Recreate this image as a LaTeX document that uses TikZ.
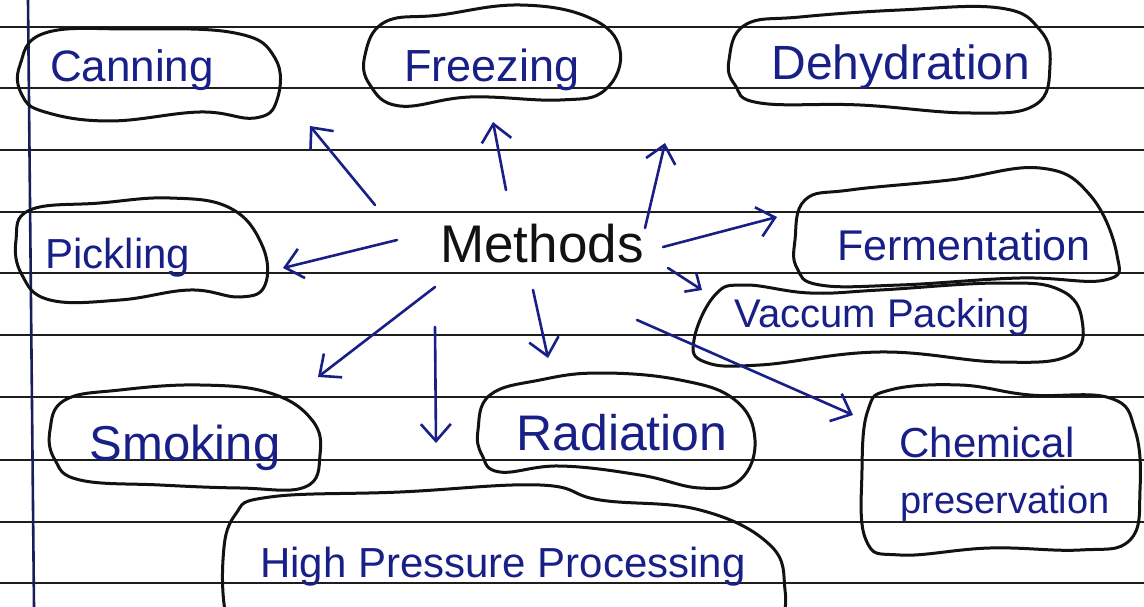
\documentclass[tikz,border=0pt]{standalone}
\usepackage{fontspec}
\setmainfont{Liberation Sans}
\usetikzlibrary{arrows.meta}
\definecolor{ink}{RGB}{24,32,135}
\definecolor{pen}{RGB}{18,18,18}
\definecolor{rule}{RGB}{30,30,30}
\definecolor{margin}{RGB}{25,30,90}
\tikzset{
  blob/.style={draw=pen, line width=3pt, line join=round},
  label/.style={text=ink, inner sep=0pt, anchor=base},
  arr/.style={draw=ink, line width=2.6pt, line cap=round,
    -{Straight Barb[length=17pt,width=30pt,line width=2.6pt]}},
  ruled/.style={draw=rule, line width=2.6pt},
}
\newcommand{\fs}[1]{\fontsize{#1}{#1}\selectfont}
\begin{document}
\begin{tikzpicture}[x=1pt,y=-1pt]
\useasboundingbox (0,0) rectangle (1144,607);
\fill[white] (0,0) rectangle (1144,607);
\begin{scope}
\clip (0,0) rectangle (1144,607);
% ruled paper
\foreach \yy in {27,88,150,212,273,335,397,460,522,583}
  \draw[ruled] (0,\yy) -- (1144,\yy);
\draw[draw=margin, line width=2.6pt] (28,0) -- (34,607);

% blobs
\draw[blob] plot[smooth cycle, tension=0.7] coordinates {(20,65) (45,33) (130,29) (235,33) (275,58) (277,100) (255,118) (200,112) (110,121) (45,112) (22,95)};
\draw[blob] plot[smooth cycle, tension=0.7] coordinates {(365,55) (385,22) (440,15) (520,5) (590,18) (620,50) (605,90) (560,100) (470,97) (400,106) (370,85)};
\draw[blob] plot[smooth cycle, tension=0.7] coordinates {(729,60) (745,25) (800,17) (900,10) (1000,8) (1040,30) (1050,65) (1035,105) (970,113) (860,105) (760,103) (735,85)};
\draw[blob] plot[smooth cycle, tension=0.7] coordinates {(16,240) (30,210) (100,203) (170,198) (230,208) (262,245) (265,285) (240,297) (190,290) (120,300) (50,300) (22,275)};
\draw[blob] plot[smooth cycle, tension=0.7] coordinates {(795,240) (805,200) (850,190) (950,180) (1040,168) (1090,195) (1117,255) (1105,280) (1020,278) (900,285) (820,285) (797,268)};
\draw[blob] plot[smooth cycle, tension=0.7] coordinates {(694,340) (715,295) (745,285) (810,293) (880,290) (1000,283) (1060,290) (1082,320) (1070,355) (1000,362) (880,352) (760,365) (705,362)};
\draw[blob] plot[smooth cycle, tension=0.7] coordinates {(50,430) (65,400) (120,390) (200,385) (270,393) (312,420) (320,455) (305,487) (240,488) (160,485) (80,480) (55,460)};
\draw[blob] plot[smooth cycle, tension=0.7] coordinates {(478,430) (490,395) (540,380) (600,373) (680,380) (735,400) (755,440) (740,480) (700,488) (640,475) (560,466) (500,472) (482,455)};
\draw[blob] plot[smooth cycle, tension=0.7] coordinates {(862,470) (868,410) (890,390) (960,385) (1030,395) (1110,398) (1135,430) (1140,490) (1130,540) (1080,550) (990,548) (900,555) (866,540)};
\draw[blob] plot[smooth cycle, tension=0.7] coordinates {(223,560) (235,515) (270,497) (400,492) (540,485) (600,500) (700,510) (770,545) (785,590) (780,625) (760,660) (250,660) (228,625)};

% texts
\node[label, text=pen] (m) at (542,262) {\fs{53}Methods};
\node[label] (canning) at (132,82) {\fs{44}Canning};
\node[label] (freezing) at (492,82) {\fs{45}Freezing};
\node[label] (dehyd) at (901,80) {\fs{48}Dehydration};
\node[label] (pickling) at (118,268) {\fs{42}Pickling};
\node[label] (ferm) at (964,260) {\fs{43}Fermentation};
\node[label] (vacuum) at (882,327) {\fs{40}Vaccum Packing};
\node[label] (smoking) at (185,460) {\fs{49}Smoking};
\node[label] (radiation) at (622,450) {\fs{50}Radiation};
\node[label] (chem1) at (987,457) {\fs{42}Chemical};
\node[label] (chem2) at (1005,513) {\fs{38}preservation};
\node[label] (hpp) at (503,577) {\fs{42}High Pressure Processing};

% arrow end points
\coordinate (s1) at (375,205); \coordinate (e1) at (310,126);
\coordinate (s2) at (506,190); \coordinate (e2) at (493,122);
\coordinate (s3) at (645,228); \coordinate (e3) at (665,143);
\coordinate (s4) at (397,240); \coordinate (e4) at (283,268);
\coordinate (s5) at (663,247); \coordinate (e5) at (777,217);
\coordinate (s6) at (668,268); \coordinate (e6) at (702,290);
\coordinate (s7) at (435,287); \coordinate (e7) at (318,377);
\coordinate (s8) at (435,327); \coordinate (e8) at (436,443);
\coordinate (s9) at (533,290); \coordinate (e9) at (548,358);
\coordinate (s10) at (637,320); \coordinate (e10) at (853,415);

\draw[arr] (s1) -- (e1);
\draw[arr] (s2) -- (e2);
\draw[arr] (s3) -- (e3);
\draw[arr] (s4) -- (e4);
\draw[arr] (s5) -- (e5);
\draw[arr, -{Straight Barb[length=12pt,width=22pt,line width=2.6pt]}] (s6) -- (e6);
\draw[arr] (s7) -- (e7);
\draw[arr] (s8) -- (e8);
\draw[arr] (s9) -- (e9);
\draw[arr] (s10) -- (e10);
\end{scope}
\end{tikzpicture}
\end{document}
